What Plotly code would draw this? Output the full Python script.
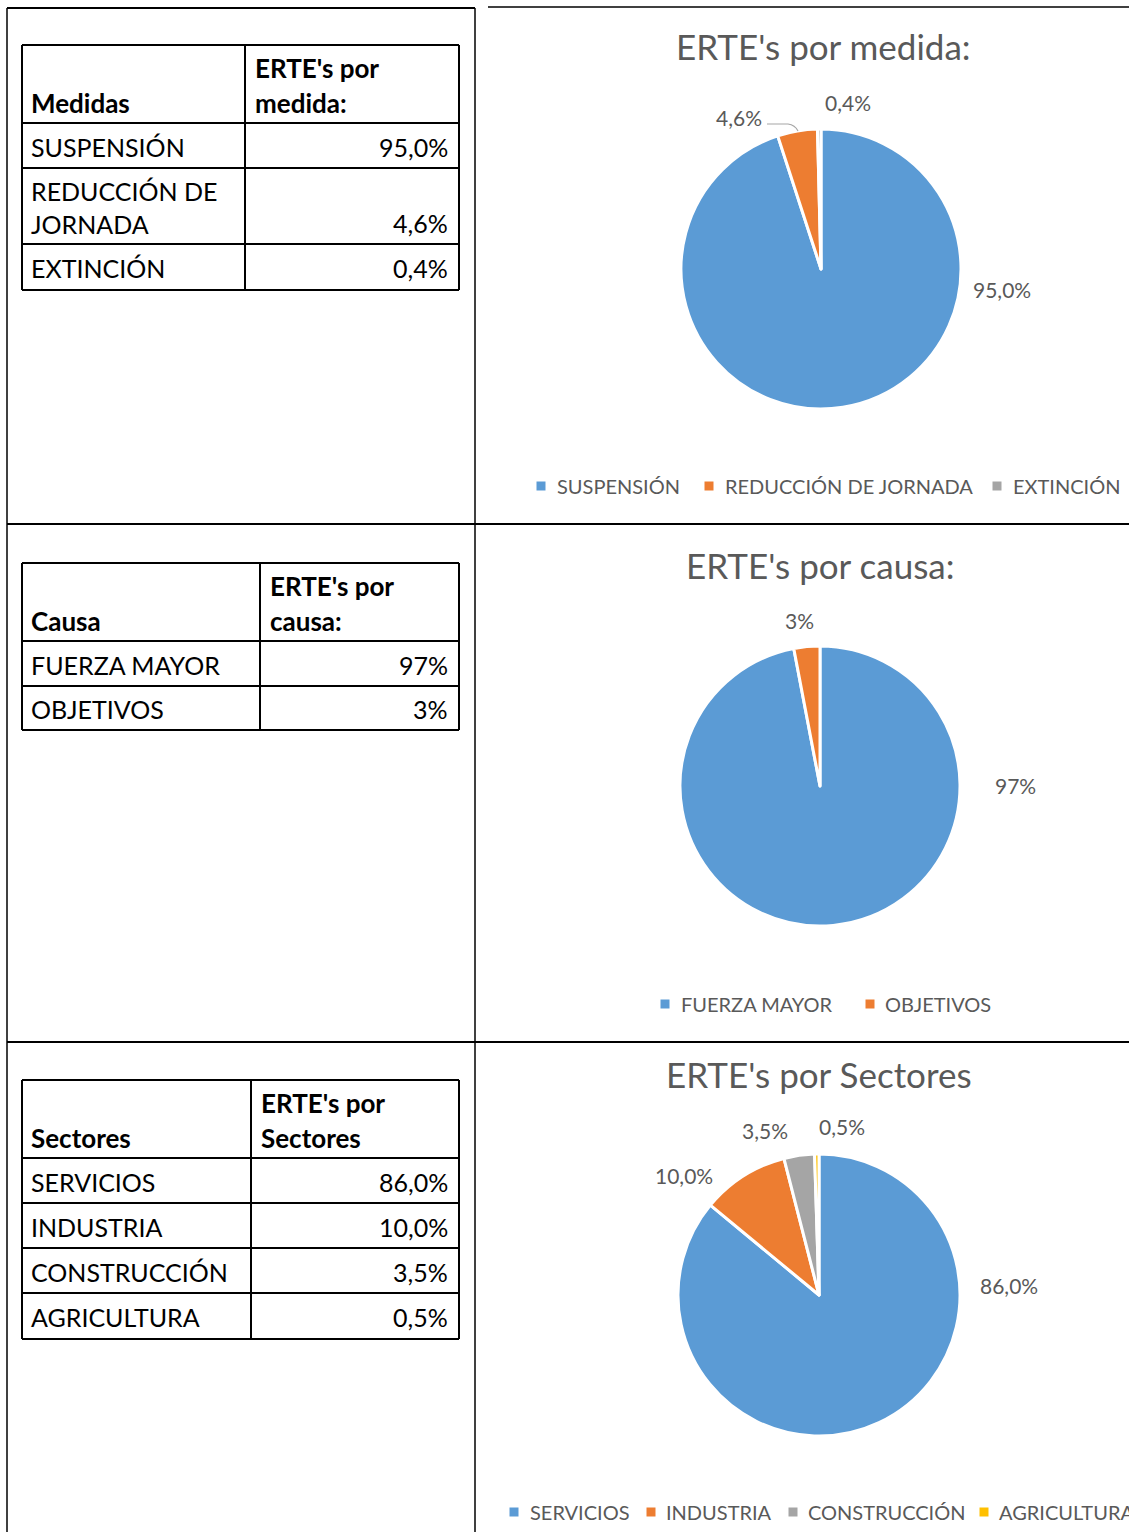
import plotly.graph_objects as go

W, H = 1129, 1532

# ---------------- data ----------------
medidas = ["SUSPENSIÓN", "REDUCCIÓN DE JORNADA", "EXTINCIÓN"]
medidas_tabla = ["SUSPENSIÓN", "REDUCCIÓN DE<br>JORNADA", "EXTINCIÓN"]
medidas_pct = [95.0, 4.6, 0.4]

causas = ["FUERZA MAYOR", "OBJETIVOS"]
causas_pct = [97, 3]

sectores = ["SERVICIOS", "INDUSTRIA", "CONSTRUCCIÓN", "AGRICULTURA"]
sectores_pct = [86.0, 10.0, 3.5, 0.5]

colors = ["#5B9BD5", "#ED7D31", "#A5A5A5", "#FFC000"]
GRAY = "#595959"
FONT = "Lato, 'Open Sans', sans-serif"


def fmt1(v):
    return f"{v:.1f}".replace(".", ",") + "%"


def fmt0(v):
    return f"{v:.0f}%"


fig = go.Figure()
shapes = []
annotations = []


def line(x0, y0, x1, y1, color="black", width=2):
    shapes.append(dict(type="line", xref="x", yref="y", x0=x0, y0=y0, x1=x1, y1=y1,
                       line=dict(color=color, width=width)))


def text(x, y, s, size, xanchor="left", bold=False, color="black", yanchor="middle"):
    annotations.append(dict(x=x, y=y, xref="x", yref="y", text=f"<b>{s}</b>" if bold else s,
                            showarrow=False, xanchor=xanchor, yanchor=yanchor,
                            align=xanchor if xanchor != "center" else "center",
                            font=dict(family=FONT, size=size, color=color)))


# ---------------- outer document grid ----------------
line(7, 8, 7, H, width=1.5)
line(475, 8, 475, H, width=1.5)
line(7, 8, 475, 8, width=2)
line(488, 7, W, 7, width=1.5)
line(7, 524, W, 524, width=2)
line(7, 1042, W, 1042, width=2)


# ---------------- tables ----------------
TS = 25
HS = 26


def table(top, col, row_bounds, head_left, head_right, names, vals, fmt):
    left, right = 22, 459
    bottom = row_bounds[-1]
    line(left, top, right, top)
    line(left, top, left, bottom)
    line(right, top, right, bottom)
    line(col, top, col, bottom)
    for yb in row_bounds:
        line(left, yb, right, yb)
    header_bottom = row_bounds[0]
    text(29, header_bottom - 20, head_left, HS, bold=True)
    text(col + 8, header_bottom - 55, head_right[0], HS, bold=True)
    text(col + 8, header_bottom - 20, head_right[1], HS, bold=True)
    prev = header_bottom
    for i, (n, v) in enumerate(zip(names, vals)):
        yb = row_bounds[i + 1]
        text(29, (prev + yb) / 2 + 1, n, TS)
        if "<br>" in n:
            text(450, yb - 21, fmt(v), TS, xanchor="right")
        else:
            text(450, (prev + yb) / 2 + 1, fmt(v), TS, xanchor="right")
        prev = yb


table(45, 245, [123, 168, 244, 290], "Medidas", ["ERTE's por", "medida:"],
      medidas_tabla, medidas_pct, fmt1)
table(563, 260, [641, 686, 730], "Causa", ["ERTE's por", "causa:"],
      causas, causas_pct, fmt0)
table(1080, 251, [1158, 1203, 1248, 1293, 1339], "Sectores", ["ERTE's por", "Sectores"],
      sectores, sectores_pct, fmt1)


# ---------------- pies ----------------
def pie(cx, cy, r, labels, vals, name):
    fig.add_trace(go.Pie(
        labels=labels, values=vals, sort=False, direction="clockwise", rotation=0,
        marker=dict(colors=colors[:len(vals)], line=dict(color="white", width=3)),
        textinfo="none", showlegend=False, name=name,
        domain=dict(x=[(cx - r) / W, (cx + r) / W], y=[1 - (cy + r) / H, 1 - (cy - r) / H]),
    ))


pie(821, 269, 140, medidas, medidas_pct, "medida")
pie(820, 786, 140, causas, causas_pct, "causa")
pie(819, 1295, 141, sectores, sectores_pct, "sectores")

# titles
TT = 35
text(823, 46, "ERTE's por medida:", TT, xanchor="center", color=GRAY)
text(820, 565, "ERTE's por causa:", TT, xanchor="center", color=GRAY)
text(819, 1074, "ERTE's por Sectores", TT, xanchor="center", color=GRAY)

# data labels (label anchor positions, px)
lbl_pos_medidas = [(1002, 289), (739, 117), (848, 102)]
lbl_pos_causas = [(1015, 785), (799, 620)]
lbl_pos_sectores = [(1009, 1285), (684, 1175), (765, 1130), (842, 1126)]
LS = 21
for (x, y), v in zip(lbl_pos_medidas, medidas_pct):
    text(x, y, fmt1(v), LS, xanchor="center", color=GRAY)
for (x, y), v in zip(lbl_pos_causas, causas_pct):
    text(x, y, fmt0(v), LS, xanchor="center", color=GRAY)
for (x, y), v in zip(lbl_pos_sectores, sectores_pct):
    text(x, y, fmt1(v), LS, xanchor="center", color=GRAY)

# leader line for 4,6%
shapes.append(dict(type="path", xref="x", yref="y", path="M 767 124 L 788 124 Q 795 125 798 131",
                   line=dict(color="#A6A6A6", width=1.2)))

# legends (marker x, text start x)
leg_medidas = [(541, 555), (709, 723), (997, 1011)]
leg_causas = [(665, 679), (870, 883)]
leg_sectores = [(514, 528), (651, 664), (793, 806), (984, 997)]


def legend(items, names, y):
    for (mx, tx), n, c in zip(items, names, colors):
        shapes.append(dict(type="rect", xref="x", yref="y", x0=mx - 4.5, x1=mx + 4.5,
                           y0=y - 4.5, y1=y + 4.5, fillcolor=c, line=dict(width=0)))
        text(tx, y, n, 20, color=GRAY)


legend(leg_medidas, medidas, 486)
legend(leg_causas, causas, 1004)
legend(leg_sectores, sectores, 1512)

fig.update_layout(
    width=W, height=H, margin=dict(l=0, r=0, t=0, b=0),
    paper_bgcolor="white", plot_bgcolor="white",
    xaxis=dict(range=[0, W], visible=False, domain=[0, 1], fixedrange=True),
    yaxis=dict(range=[H, 0], visible=False, domain=[0, 1], fixedrange=True),
    shapes=shapes, annotations=annotations, showlegend=False,
)

fig.write_html("out.html", config={"displayModeBar": False},
               post_script="document.body.style.margin='0';document.body.style.overflow='hidden';")
